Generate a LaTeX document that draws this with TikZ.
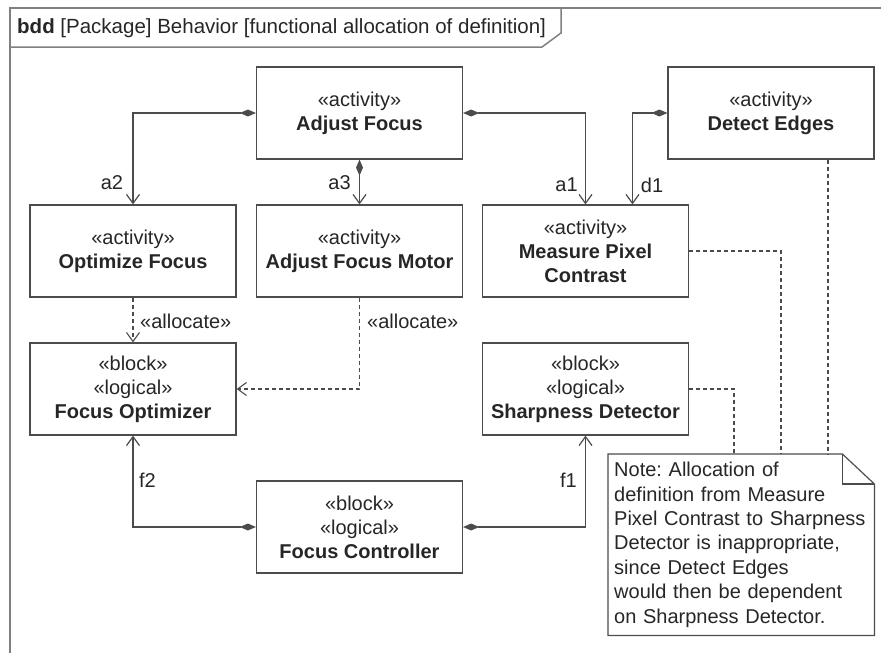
\documentclass[tikz,border=0pt]{standalone}
\usepackage{fontspec}
\setmainfont{Liberation Sans}
\usetikzlibrary{arrows.meta}
\definecolor{linegray}{gray}{0.3}
\definecolor{framegray}{gray}{0.5}
\definecolor{inkgray}{gray}{0.15}
\frenchspacing
\begin{document}
\begin{tikzpicture}[x=1pt,y=-1pt,
  txt/.style={font=\fontsize{20}{24}\selectfont, text=inkgray},
  blk/.style={txt, draw=linegray, line width=1.2pt, minimum width=206pt,
    minimum height=92pt, align=center, inner sep=0pt},
  lbl/.style={txt, inner sep=0pt},
  comp/.style={draw=linegray, line width=1.2pt,
    {Diamond[length=16pt,width=7pt]}-{Straight Barb[length=9pt,width=13pt]}},
  alloc/.style={draw=linegray, line width=1.1pt, dash pattern=on 4pt off 3pt,
    -{Straight Barb[length=9pt,width=13pt]}},
  trace/.style={draw=linegray, line width=1.1pt, dash pattern=on 4pt off 3pt},
  notebox/.style={txt, align=left, text width=254pt, inner xsep=6pt,
    inner ysep=0pt, minimum height=181pt, font=\fontsize{20}{24.4}\selectfont}
]
\useasboundingbox (0,0) rectangle (881,653);

% diagram frame and header tab
\draw[framegray, line width=2pt] (881,8) -- (10,8) -- (10,653);
\draw[framegray, line width=1.5pt] (10,47) -- (542,47) -- (561,33) -- (561,8);
\node[lbl, anchor=west, font=\fontsize{20.5}{24}\selectfont] (title) at (17,28)
  {\textbf{bdd} [Package] Behavior [functional allocation of definition]};

% activities
\node[blk] (AF)  at (359.5,113) {«activity»\\\textbf{Adjust Focus}};
\node[blk] (DE)  at (771,113)   {«activity»\\\textbf{Detect Edges}};
\node[blk] (OF)  at (133,251)   {«activity»\\\textbf{Optimize Focus}};
\node[blk] (AFM) at (359.5,251) {«activity»\\\textbf{Adjust Focus Motor}};
\node[blk] (MPC) at (585.5,251) {«activity»\\\textbf{Measure Pixel}\\\textbf{Contrast}};

% logical blocks
\node[blk] (FO) at (133,389)   {«block»\\«logical»\\\textbf{Focus Optimizer}};
\node[blk] (SD) at (585.5,389) {«block»\\«logical»\\\textbf{Sharpness Detector}};
\node[blk] (FC) at (359.5,527) {«block»\\«logical»\\\textbf{Focus Controller}};

% composition of activities
\draw[comp] (AF.west) -| (OF.north);
\draw[comp] (AF.south) -- (AFM.north);
\draw[comp] (AF.east) -| (MPC.north);
\draw[comp] (DE.west) -| ([xshift=47pt]MPC.north);
\node[lbl] (la2) at (112,183)   {a2};
\node[lbl] (la3) at (339.5,183) {a3};
\node[lbl] (la1) at (566.5,185) {a1};
\node[lbl] (ld1) at (652,185)   {d1};

% allocations
\draw[alloc] (OF.south) -- (FO.north);
\draw[alloc] (AFM.south) |- (FO.east);
\node[lbl, anchor=west] (al1) at (140,321) {«allocate»};
\node[lbl, anchor=west] (al2) at (367,321) {«allocate»};

% composition of logical blocks
\draw[comp] (FC.west) -| (FO.south);
\draw[comp] (FC.east) -| (SD.south);
\node[lbl] (lf2) at (147.5,480) {f2};
\node[lbl] (lf1) at (568.5,480) {f1};

% note
\node[notebox, anchor=north west] (note) at (608,454)
  {Note: Allocation of\\definition from Measure\\Pixel Contrast to Sharpness\\Detector is inappropriate,\\since Detect Edges\\would then be dependent\\on Sharpness Detector.};
\draw[linegray, line width=1.2pt] (note.north west) -- ([xshift=-32pt]note.north east)
  -- ([yshift=-30pt]note.north east) -- (note.south east) -- (note.south west) -- cycle;
\draw[linegray, line width=1.2pt] ([xshift=-32pt]note.north east)
  -- ([xshift=-32pt,yshift=-30pt]note.north east) -- ([yshift=-30pt]note.north east);

% note attachments
\draw[trace] (MPC.east) -| ([xshift=173pt]note.north west);
\draw[trace] (SD.east) -| ([xshift=126pt]note.north west);
\draw[trace] ([xshift=57pt]DE.south) -- ([xshift=57pt]DE.south |- note.north);
\end{tikzpicture}
\end{document}
